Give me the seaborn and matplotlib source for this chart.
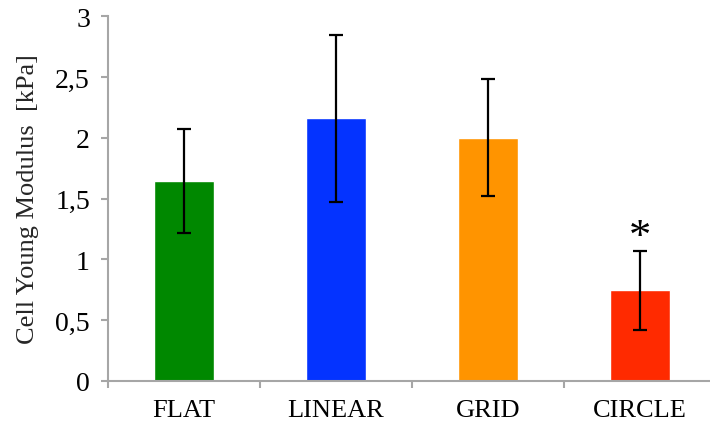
import matplotlib
matplotlib.use("Agg")
import matplotlib.pyplot as plt
import seaborn as sns
import pandas as pd
from matplotlib.ticker import FuncFormatter, FixedLocator

categories = ["FLAT", "LINEAR", "GRID", "CIRCLE"]
modulus = [1.64, 2.16, 2.00, 0.745]
err_low = [1.215, 1.47, 1.52, 0.42]
err_high = [2.07, 2.85, 2.485, 1.07]
colors = ["#008800", "#0433FF", "#FF9400", "#FF2A00"]
y_ticks = [0, 0.5, 1, 1.5, 2, 2.5, 3]

df = pd.DataFrame({"group": categories, "modulus": modulus})

sns.set_theme(style="white")
plt.rcParams["font.family"] = ["Liberation Serif", "DejaVu Serif"]

fig = plt.figure(figsize=(7.1, 4.27), dpi=100)
ax = fig.add_axes([108 / 710, 45.3 / 427, 608 / 710, 364.4 / 427])

sns.barplot(data=df, x="group", y="modulus", hue="group", palette=colors,
            order=categories, hue_order=categories, width=0.4,
            errorbar=None, legend=False, saturation=1, ax=ax)

# asymmetric error bars from the lower/upper bounds
lower = [m - lo for m, lo in zip(modulus, err_low)]
upper = [hi - m for m, hi in zip(modulus, err_high)]
ax.errorbar(range(len(categories)), modulus, yerr=[lower, upper], fmt="none",
            ecolor="black", elinewidth=1.6, capsize=4.7, capthick=1.6, zorder=5)

# significance marker above CIRCLE
ax.text(3, 1.18, "*", ha="center", va="center", fontsize=32,
        color="black")

ax.set_xlim(-0.5, 3.5)
ax.set_ylim(0, 3)
ax.set_yticks(y_ticks)
ax.yaxis.set_major_formatter(FuncFormatter(lambda v, p: f"{v:g}".replace(".", ",")))
ax.set_xticks(range(len(categories)))
ax.set_xticklabels(categories)
ax.xaxis.set_minor_locator(FixedLocator([-0.5, 0.5, 1.5, 2.5]))

grey = "#A6A6A6"
for side in ["top", "right"]:
    ax.spines[side].set_visible(False)
for side in ["left", "bottom"]:
    ax.spines[side].set_color(grey)
    ax.spines[side].set_linewidth(1.5)

ax.tick_params(axis="y", which="major", direction="out", length=5, width=1.5,
               color=grey, labelsize=20, pad=8, labelcolor="black", left=True)
ax.tick_params(axis="x", which="major", length=0, labelsize=19, pad=13,
               labelcolor="black")
ax.tick_params(axis="x", which="minor", direction="out", length=5, width=1.5,
               color=grey, bottom=True)

ax.set_xlabel("")
ax.set_ylabel("Cell Young Modulus  [kPa]", fontsize=19, labelpad=12)

fig.savefig("out.png", dpi=100)
